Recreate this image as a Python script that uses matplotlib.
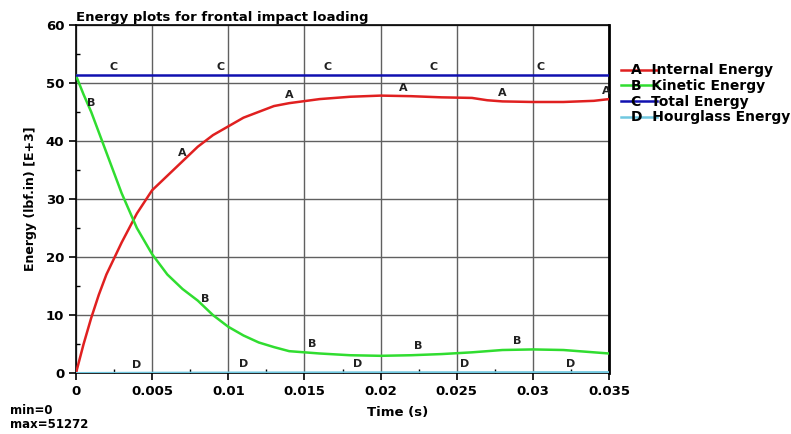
import matplotlib.pyplot as plt
import numpy as np
from matplotlib.ticker import MultipleLocator

plt.rcParams["font.family"] = ["DejaVu Sans"]
plt.rcParams["font.weight"] = "bold"

# data (energy in lbf.in x 1e3)
t_internal = [0.0, 0.0005, 0.001, 0.0015, 0.002, 0.003, 0.004, 0.005, 0.006, 0.007,
              0.008, 0.009, 0.010, 0.011, 0.012, 0.013, 0.014, 0.016, 0.018, 0.020,
              0.022, 0.024, 0.026, 0.027, 0.028, 0.030, 0.032, 0.034, 0.035]
e_internal = [0.0, 5.0, 9.5, 13.5, 17.0, 22.5, 27.5, 31.5, 34.0, 36.5,
              39.0, 41.0, 42.5, 44.0, 45.0, 46.0, 46.5, 47.2, 47.6, 47.8,
              47.7, 47.5, 47.4, 47.0, 46.8, 46.7, 46.7, 46.9, 47.2]
t_kinetic = [0.0, 0.0005, 0.001, 0.002, 0.003, 0.004, 0.005, 0.006, 0.007, 0.008,
             0.009, 0.010, 0.011, 0.012, 0.013, 0.014, 0.016, 0.018, 0.020, 0.022,
             0.024, 0.026, 0.028, 0.030, 0.032, 0.034, 0.035]
e_kinetic = [51.27, 48.0, 45.0, 38.0, 31.0, 25.0, 20.5, 17.0, 14.5, 12.5,
             10.0, 8.0, 6.5, 5.3, 4.5, 3.8, 3.4, 3.1, 3.0, 3.1,
             3.3, 3.6, 4.0, 4.1, 4.0, 3.6, 3.4]
t_total = [0.0, 0.035]
e_total = [51.272, 51.272]
t_hourglass = [0.0, 0.005, 0.010, 0.015, 0.020, 0.025, 0.030, 0.035]
e_hourglass = [0.0, 0.05, 0.08, 0.1, 0.12, 0.13, 0.14, 0.15]

series = [
    ("A", "Internal Energy", t_internal, e_internal, "#e02020",
     [0.007, 0.014, 0.0215, 0.028, 0.0348]),
    ("B", "Kinetic Energy", t_kinetic, e_kinetic, "#30dd30",
     [0.001, 0.0085, 0.0155, 0.0225, 0.029]),
    ("C", "Total Energy", t_total, e_total, "#1010b0",
     [0.0025, 0.0095, 0.0165, 0.0235, 0.0305]),
    ("D", "Hourglass Energy", t_hourglass, e_hourglass, "#70c8e0",
     [0.004, 0.011, 0.0185, 0.0255, 0.0325]),
]

fig = plt.figure(figsize=(7.91, 4.34), dpi=100)
ax = fig.add_axes([0.096, 0.14, 0.674, 0.803])

for letter, name, t, e, color, lab_t in series:
    ax.plot(t, e, color=color, lw=1.8, label=letter + "  " + name, zorder=3)
    for lt in lab_t:
        ly = np.interp(lt, t, e)
        ax.text(lt, ly + 0.6, letter, fontsize=8, ha="center", va="bottom",
                color="#202020", zorder=4)

ax.set_xlim(0, 0.035)
ax.set_ylim(0, 60)
ax.xaxis.set_major_locator(MultipleLocator(0.005))
ax.xaxis.set_minor_locator(MultipleLocator(0.0025))
ax.yaxis.set_major_locator(MultipleLocator(10))
ax.yaxis.set_minor_locator(MultipleLocator(5))
ax.set_xticks(np.arange(0, 0.0351, 0.005))
ax.set_xticklabels(["0", "0.005", "0.01", "0.015", "0.02", "0.025", "0.03", "0.035"])
ax.grid(True, which="major", color="#606060", lw=1.0)
ax.tick_params(which="major", direction="out", length=5, width=1.2, labelsize=9.5)
ax.tick_params(which="minor", direction="in", length=3, width=1.0)
for sp in ax.spines.values():
    sp.set_linewidth(1.2)
ax.spines["right"].set_linewidth(2)

ax.set_title("Energy plots for frontal impact loading", loc="left",
             fontsize=9.5, fontweight="bold", pad=3)
ax.set_ylabel("Energy (lbf.in) [E+3]", fontsize=9, fontweight="bold", labelpad=6)
fig.text(0.503, 0.035, "Time (s)", fontsize=9.5, fontweight="bold",
         ha="center", va="bottom")

fig.text(0.013, 0.008, "min=0\nmax=51272", fontsize=8.5, fontweight="bold",
         va="bottom", ha="left", linespacing=1.1)

leg = ax.legend(loc="upper left", bbox_to_anchor=(1.012, 0.905), frameon=False,
                fontsize=10, handlelength=2.6, handletextpad=-1.9,
                labelspacing=0.12, borderaxespad=0)

fig.savefig("out.png", dpi=100)
